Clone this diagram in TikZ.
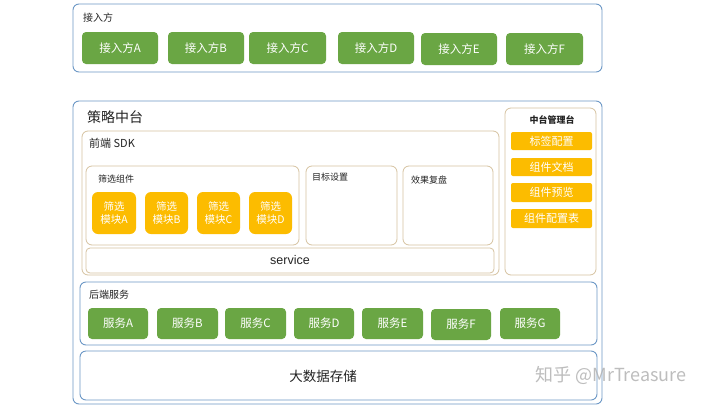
\documentclass[tikz,border=0pt]{standalone}
\usepackage{fontspec}
\setmainfont{Noto Sans CJK SC}
\newfontfamily\latinsans{Liberation Sans}
\definecolor{bluebd}{RGB}{108,152,198}
\definecolor{tanbd}{RGB}{214,194,160}
\definecolor{grn}{RGB}{106,166,68}
\definecolor{ylw}{RGB}{252,188,0}
\definecolor{txt}{RGB}{35,35,35}
\tikzset{
  bluebox/.style={draw=bluebd, line width=0.9pt, rounded corners=6pt, inner sep=0pt, fill=white},
  tanbox/.style={draw=tanbd, line width=0.8pt, rounded corners=6pt, inner sep=0pt, fill=white},
  greenbtn/.style={fill=grn, draw=none, rounded corners=4pt, inner sep=0pt, text=white, font=\fontsize{11.5}{12}\selectfont},
  yelmod/.style={fill=ylw, draw=none, rounded corners=6pt, inner sep=0pt, text=white, align=center, font=\fontsize{10.5}{12.5}\selectfont},
  yelitem/.style={fill=ylw, draw=none, rounded corners=2pt, inner sep=0pt, text=white, minimum width=81pt, font=\fontsize{11}{12}\selectfont},
  lbl/.style={anchor=west, inner sep=0pt, text=txt},
}
\begin{document}
\begin{tikzpicture}[x=1pt,y=-1pt]
\useasboundingbox[fill=white] (0,0) rectangle (720,405);

% 接入方
\node[bluebox, minimum width=529pt, minimum height=68pt] (jr) at (337.5,38) {};
\node[lbl, font=\fontsize{10}{12}\selectfont] (jrl) at (83,18) {接入方};
\node[greenbtn, minimum width=76pt, minimum height=32pt] (ja) at (120,48) {接入方A};
\node[greenbtn, minimum width=76pt, minimum height=32pt] (jb) at (206,48) {接入方B};
\node[greenbtn, minimum width=77pt, minimum height=32pt] (jc) at (287.5,48) {接入方C};
\node[greenbtn, minimum width=76pt, minimum height=32pt] (jd) at (376,48) {接入方D};
\node[greenbtn, minimum width=76pt, minimum height=32pt] (je) at (459,49) {接入方E};
\node[greenbtn, minimum width=77pt, minimum height=32pt] (jf) at (544.5,49) {接入方F};

% 策略中台
\node[bluebox, minimum width=529pt, minimum height=303pt] (cl) at (337.5,252.5) {};
\node[lbl, font=\fontsize{14}{16}\selectfont] (cll) at (87,117) {策略中台};

% 前端 SDK
\node[tanbox, minimum width=417pt, minimum height=144pt] (sdk) at (290.5,203) {};
\node[lbl, font=\fontsize{11}{13}\selectfont] (sdkl) at (89,143) {前端 SDK};

\node[tanbox, minimum width=213pt, minimum height=79pt] (sx) at (192.5,205.5) {};
\node[lbl, font=\fontsize{9}{11}\selectfont] (sxl) at (98,179) {筛选组件};
\node[yelmod, minimum width=44pt, minimum height=42pt] (ma) at (114,213) {筛选\\模块A};
\node[yelmod, minimum width=43pt, minimum height=42pt] (mb) at (166.5,213) {筛选\\模块B};
\node[yelmod, minimum width=43pt, minimum height=42pt] (mc) at (218.5,213) {筛选\\模块C};
\node[yelmod, minimum width=43pt, minimum height=42pt] (md) at (270.5,213) {筛选\\模块D};

\node[tanbox, minimum width=91pt, minimum height=79pt] (mb2) at (351.5,205.5) {};
\node[lbl, font=\fontsize{9}{11}\selectfont] (mbl) at (312,177) {目标设置};
\node[tanbox, minimum width=90pt, minimum height=79pt] (xg) at (448,205.5) {};
\node[lbl, font=\fontsize{9}{11}\selectfont] (xgl) at (411,180) {效果复盘};

\node[tanbox, rounded corners=4pt, minimum width=408pt, minimum height=25pt, font=\latinsans\fontsize{12.5}{14}\selectfont, text=txt] (svc) at (290,260.5) {service};

% 中台管理台
\node[tanbox, minimum width=91pt, minimum height=167pt] (gl) at (550.5,191.5) {};
\node[inner sep=0pt, text=txt, font=\bfseries\fontsize{9}{11}\selectfont] (gll) at (552,120) {中台管理台};
\node[yelitem, minimum height=18pt] (g1) at (551.5,141) {标签配置};
\node[yelitem, minimum height=18pt] (g2) at (551.5,167) {组件文档};
\node[yelitem, minimum height=19pt] (g3) at (551.5,192.5) {组件预览};
\node[yelitem, minimum height=19pt] (g4) at (551.5,218.5) {组件配置表};

% 后端服务
\node[bluebox, minimum width=517pt, minimum height=63pt] (hd) at (338.5,313.5) {};
\node[lbl, font=\fontsize{10}{12}\selectfont] (hdl) at (89,295) {后端服务};
\node[greenbtn, minimum width=60pt, minimum height=31pt] (sa) at (118,323.5) {服务A};
\node[greenbtn, minimum width=61pt, minimum height=31pt] (sb) at (187.5,323.5) {服务B};
\node[greenbtn, minimum width=61pt, minimum height=31pt] (sc) at (255.5,323.5) {服务C};
\node[greenbtn, minimum width=60pt, minimum height=31pt] (sd) at (324,323.5) {服务D};
\node[greenbtn, minimum width=61pt, minimum height=31pt] (se) at (392.5,323.5) {服务E};
\node[greenbtn, minimum width=60pt, minimum height=31pt] (sf) at (461,324.5) {服务F};
\node[greenbtn, minimum width=60pt, minimum height=31pt] (sg) at (530,323.5) {服务G};

% 大数据存储
\node[bluebox, minimum width=517pt, minimum height=49pt] (dsj) at (338.5,375.5) {};
\node[inner sep=0pt, text=txt, font=\fontsize{13.5}{15}\selectfont] (dsjl) at (323,376) {大数据存储};

% watermark
\node[inner sep=0pt, text=black!30, opacity=0.85, font=\fontsize{18}{20}\selectfont] (wm) at (611,375) {知乎 @MrTreasure};
\end{tikzpicture}
\end{document}
